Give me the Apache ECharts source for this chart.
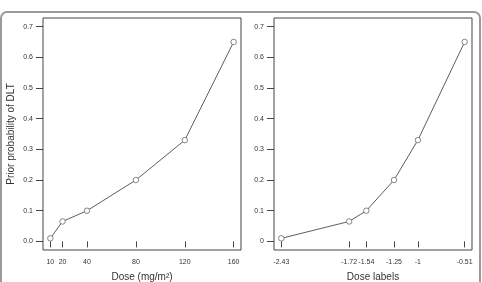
<!DOCTYPE html>
<html>
<head>
<meta charset="utf-8">
<script src="https://cdn.jsdelivr.net/npm/echarts@6/dist/echarts.min.js"></script>
<style>
  html, body { margin: 0; padding: 0; background: #fff; }
  #chart { width: 482px; height: 282px; }
</style>
</head>
<body>
<div id="chart"></div>
<script>
// prior probabilities of DLT (same for both panels)
const priorProb = [0.01, 0.065, 0.10, 0.20, 0.33, 0.65];
// left panel: actual doses in mg/m2
const doses = [10, 20, 40, 80, 120, 160];
// right panel: dose labels
const doseLabels = [-2.43, -1.72, -1.54, -1.25, -1, -0.51];
const yTicks = [0, 0.1, 0.2, 0.3, 0.4, 0.5, 0.6, 0.7];

const font = 'Liberation Sans';
const ink = '#333';

// R style range extension of 4% on each side
const ext = (lo, hi) => { const d = (hi - lo) * 0.04; return [lo - d, hi + d]; };
const xL = ext(doses[0], doses[doses.length - 1]);
const xR = ext(doseLabels[0], doseLabels[doseLabels.length - 1]);
const yR = ext(0, 0.7);

const chart = echarts.init(document.getElementById('chart'));

const xAxisBase = (range, ticks, name, idx) => ({
  type: 'value',
  gridIndex: idx,
  min: range[0],
  max: range[1],
  name: name,
  nameLocation: 'middle',
  nameGap: 22,
  nameTextStyle: { fontFamily: font, fontSize: 10, color: ink },
  axisLine: { show: false },
  splitLine: { show: false },
  axisTick: { show: true, inside: false, length: 6, customValues: ticks, lineStyle: { color: '#444' } },
  axisLabel: {
    customValues: ticks, margin: 9, fontFamily: font, fontSize: 7, color: ink,
    formatter: v => String(+v.toFixed(2))
  }
});

const yAxisBase = (idx, fmt, name) => ({
  type: 'value',
  gridIndex: idx,
  min: yR[0],
  max: yR[1],
  name: name,
  nameLocation: 'middle',
  nameGap: 27,
  nameTextStyle: { fontFamily: font, fontSize: 10, color: ink },
  axisLine: { show: false },
  splitLine: { show: false },
  axisTick: { show: true, inside: false, length: 7, customValues: yTicks, lineStyle: { color: '#444' } },
  axisLabel: { customValues: yTicks, margin: 10, fontFamily: font, fontSize: 7, color: ink, formatter: fmt }
});

const seriesBase = (xs, idx) => ({
  type: 'line',
  xAxisIndex: idx,
  yAxisIndex: idx,
  data: xs.map((x, i) => [x, priorProb[i]]),
  symbol: 'circle',
  symbolSize: 5.5,
  itemStyle: { color: '#fff', borderColor: '#555', borderWidth: 0.7 },
  lineStyle: { color: '#333', width: 0.8 },
  animation: false,
  silent: true
});

chart.setOption({
  backgroundColor: '#fff',
  animation: false,
  graphic: [{
    type: 'rect',
    shape: { x: 1, y: 12, width: 479, height: 290, r: 6 },
    style: { fill: 'none', stroke: '#9a9a9a', lineWidth: 2 },
    silent: true
  }],
  grid: [
    { left: 43, top: 18, width: 198, height: 232, outerBoundsMode: 'none', show: true, borderColor: '#444', borderWidth: 1 },
    { left: 274, top: 18, width: 198, height: 232, outerBoundsMode: 'none', show: true, borderColor: '#444', borderWidth: 1 }
  ],
  xAxis: [
    xAxisBase(xL, doses, 'Dose (mg/m²)', 0),
    xAxisBase(xR, doseLabels, 'Dose labels', 1)
  ],
  yAxis: [
    yAxisBase(0, v => v.toFixed(1), 'Prior probability of DLT'),
    yAxisBase(1, v => Math.abs(v) < 1e-9 ? '0' : v.toFixed(1), '')
  ],
  series: [seriesBase(doses, 0), seriesBase(doseLabels, 1)]
});
</script>
</body>
</html>
